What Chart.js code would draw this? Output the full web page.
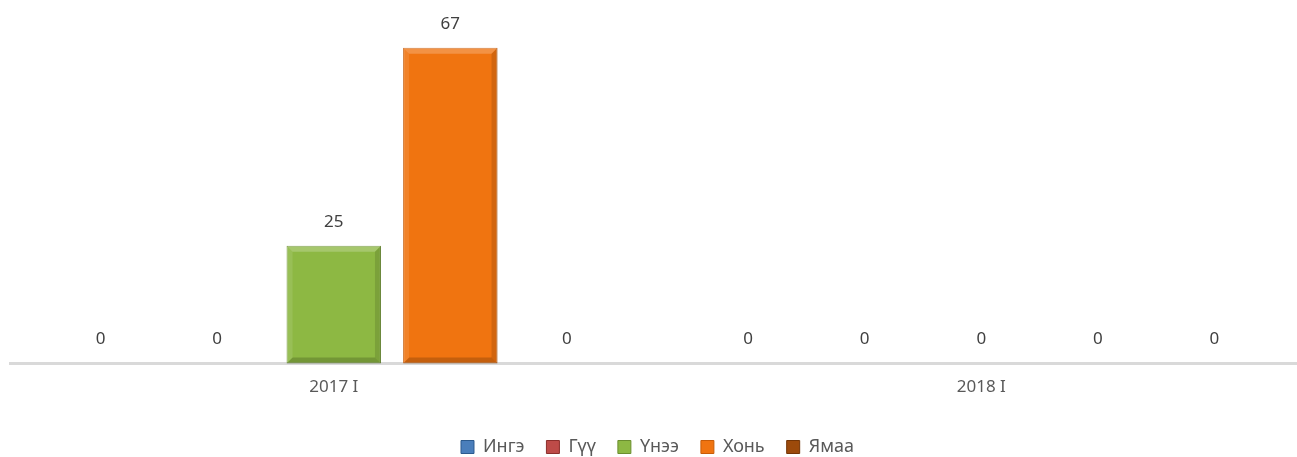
<!DOCTYPE html>
<html><head><meta charset="utf-8">
<script src="https://cdn.jsdelivr.net/npm/chart.js@4/dist/chart.umd.min.js"></script>
<style>html,body{margin:0;padding:0;background:#fff;overflow:hidden;}#outer{width:1297px;height:457px;overflow:hidden;}#wrap{width:1305px;height:466px;}</style>
</head><body><div id="outer"><div id="wrap"><canvas id="c"></canvas></div></div>
<script>
const categories = ["2017 I", "2018 I"];
const seriesNames = ["Ингэ", "Гүү", "Үнээ", "Хонь", "Ямаа"];
const inge = [0, 0];
const guu = [0, 0];
const unee = [25, 0];
const khon = [67, 0];
const yamaa = [0, 0];
const colors = ["#4A7EBB", "#BE4B48", "#8DB843", "#F07410", "#9C4A0B"];
const edgeColors = ["#2C5A8E", "#8C2F2C", "#6A8E2F", "#C75C08", "#733506"];
const values = [inge, guu, unee, khon, yamaa];
const FONT = '"Noto Sans", "Open Sans", sans-serif';

const labelPlugin = {
  id: 'valLabels',
  afterDatasetsDraw(chart) {
    const ctx = chart.ctx;
    ctx.save();
    ctx.font = '17px ' + FONT;
    ctx.fillStyle = '#404040';
    ctx.textAlign = 'center';
    ctx.textBaseline = 'middle';
    chart.data.datasets.forEach((ds, i) => {
      const meta = chart.getDatasetMeta(i);
      meta.data.forEach((el, j) => {
        ctx.fillText(String(ds.data[j]), el.x, el.y - 24);
      });
    });
    ctx.restore();
  }
};
const bevelPlugin = {
  id: 'bevel',
  afterDatasetsDraw(chart) {
    const ctx = chart.ctx;
    ctx.save();
    chart.data.datasets.forEach((ds, i) => {
      const meta = chart.getDatasetMeta(i);
      meta.data.forEach((el) => {
        const h = el.base - el.y;
        if (h < 2) return;
        const l = el.x - el.width / 2, r = el.x + el.width / 2, t = el.y, b = el.base;
        const bw = 6;
        ctx.fillStyle = 'rgba(255,255,255,0.22)';
        ctx.beginPath(); ctx.moveTo(l, t); ctx.lineTo(r, t); ctx.lineTo(r - bw, t + bw); ctx.lineTo(l + bw, t + bw); ctx.closePath(); ctx.fill();
        ctx.fillStyle = 'rgba(255,255,255,0.1)';
        ctx.beginPath(); ctx.moveTo(l, t); ctx.lineTo(l + bw, t + bw); ctx.lineTo(l + bw, b - bw); ctx.lineTo(l, b); ctx.closePath(); ctx.fill();
        ctx.fillStyle = 'rgba(0,0,0,0.12)';
        ctx.beginPath(); ctx.moveTo(r, t); ctx.lineTo(r, b); ctx.lineTo(r - bw, b - bw); ctx.lineTo(r - bw, t + bw); ctx.closePath(); ctx.fill();
        ctx.fillStyle = 'rgba(0,0,0,0.18)';
        ctx.beginPath(); ctx.moveTo(l, b); ctx.lineTo(r, b); ctx.lineTo(r - bw, b - bw); ctx.lineTo(l + bw, b - bw); ctx.closePath(); ctx.fill();
      });
    });
    ctx.restore();
  }
};

new Chart(document.getElementById('c'), {
  type: 'bar',
  data: {
    labels: categories,
    datasets: seriesNames.map((n, i) => ({
      label: n,
      data: values[i],
      backgroundColor: colors[i],
      borderColor: edgeColors[i],
      borderWidth: 1,
      borderSkipped: false,
      categoryPercentage: 0.9,
      barPercentage: 0.81
    }))
  },
  options: {
    responsive: true,
    maintainAspectRatio: false,
    animation: false,
    layout: { padding: { top: 10, left: 10, right: 0, bottom: 0 } },
    plugins: {
      legend: {
        position: 'bottom',
        labels: {
          boxWidth: 13, boxHeight: 13, padding: 22,
          color: '#595959',
          font: { family: FONT, size: 18 }
        }
      },
      tooltip: { enabled: false }
    },
    scales: {
      x: {
        grid: { display: false, drawTicks: false },
        border: { display: true, color: '#D9D9D9', width: 3 },
        ticks: { color: '#595959', padding: 13, font: { family: FONT, size: 17 } },
        afterFit(scale) { scale.height += 6; }
      },
      y: {
        display: false,
        min: 0, max: 75
      }
    }
  },
  plugins: [labelPlugin, bevelPlugin]
});
</script></body></html>
